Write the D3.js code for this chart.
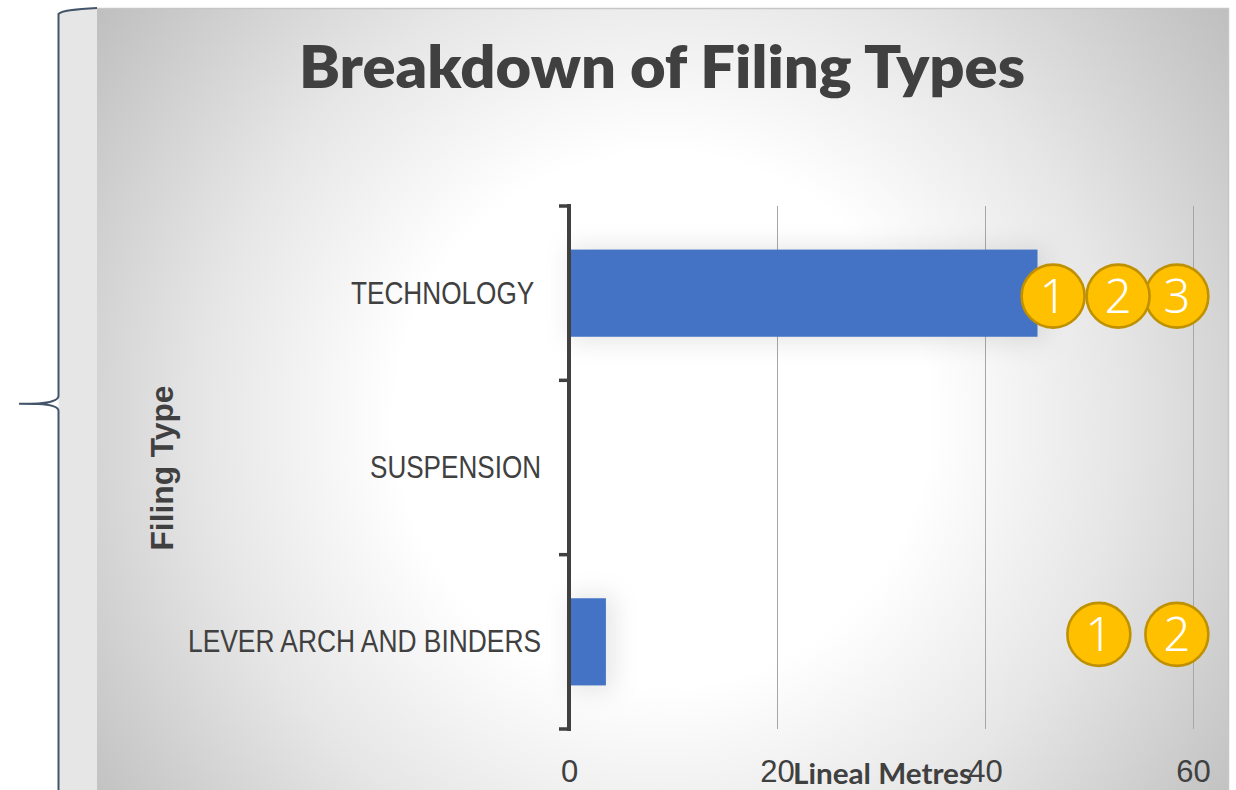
<!DOCTYPE html>
<html><head><meta charset="utf-8">
<script src="https://cdn.jsdelivr.net/npm/d3@7"></script>
<style>html,body{margin:0;padding:0;background:#fff;overflow:hidden}svg{display:block}</style>
</head><body><svg id="c" width="1236" height="790"></svg>
<script>
const categories = ["TECHNOLOGY ", "SUSPENSION", "LEVER ARCH AND BINDERS"];
const values = [45, 0, 3.5];
const xTicks = [0, 20, 40, 60];
const badgeGroups = [
  {category: "TECHNOLOGY ", labels: ["3", "2", "1"], at: [58.4, 52.75, 46.5], dy: 3},
  {category: "LEVER ARCH AND BINDERS", labels: ["2", "1"], at: [58.4, 50.9], dy: -7.5}
];
const chartTitle = "Breakdown of Filing Types";
const xTitle = "Lineal Metres";
const yTitle = "Filing Type";

const svg = d3.select("#c");
const defs = svg.append("defs");
const grad = defs.append("radialGradient").attr("id", "bg")
  .attr("gradientUnits", "userSpaceOnUse").attr("cx", 662).attr("cy", 420).attr("r", 740);
[[0, "#ffffff"], [0.36, "#ffffff"], [0.62, "#e6e6e6"], [1, "#b8b8b8"]].forEach(([o, c]) =>
  grad.append("stop").attr("offset", o).attr("stop-color", c));
const blur = defs.append("filter").attr("id", "sh").attr("x", "-30%").attr("y", "-40%").attr("width", "160%").attr("height", "180%");
blur.append("feGaussianBlur").attr("stdDeviation", 12);

svg.append("path").attr("d", "M97 8C78 9 62 10 58.5 14V790H97Z").attr("fill", "#e6e6e6");
svg.append("rect").attr("x", 97).attr("y", 8).attr("width", 1131).attr("height", 782).attr("fill", "url(#bg)");
svg.append("path").attr("d", "M97 8.5H1228.5V790").attr("fill", "none").attr("stroke", "#c6c6c6").attr("stroke-width", 1.5);
svg.append("path").attr("d", "M97 8C78 9 62 10 58.5 14V396C58.5 400 50 403 38 403.5C32 403.7 26 403.7 19 403.7C26 403.7 32 403.7 38 404C50 404.5 58.5 406 58.5 411V790")
  .attr("fill", "none").attr("stroke", "#44546a").attr("stroke-width", 2);

const x = d3.scaleLinear().domain([0, 60]).range([569.5, 1193.5]);
const y = d3.scaleBand().domain(categories).range([206, 729]).paddingInner(0.5).paddingOuter(0.25);
const yb = d3.scaleBand().domain(categories).range([206, 729]);

const fam = "'Liberation Sans', Arial, sans-serif";
svg.append("g").selectAll("line").data(xTicks.filter(d => d > 0)).join("line")
  .attr("x1", d => x(d)).attr("x2", d => x(d)).attr("y1", 206).attr("y2", 729)
  .attr("stroke", "#a6a6a6").attr("stroke-width", 1);

const bars = categories.map((c, i) => ({c, v: values[i]})).filter(d => d.v > 0);
svg.append("g").attr("filter", "url(#sh)").attr("opacity", 0.2).selectAll("rect").data(bars).join("rect")
  .attr("x", x(0)).attr("y", d => y(d.c) - 3).attr("width", d => x(d.v) - x(0) + 8).attr("height", y.bandwidth() + 8).attr("fill", "#808080");
svg.append("g").selectAll("rect").data(bars).join("rect")
  .attr("x", x(0)).attr("y", d => y(d.c)).attr("width", d => x(d.v) - x(0)).attr("height", y.bandwidth()).attr("fill", "#4472c4");

const ax = svg.append("g").attr("stroke", "#404040").attr("stroke-width", 4).attr("fill", "none");
ax.append("line").attr("x1", 569).attr("x2", 569).attr("y1", 204).attr("y2", 731);
const tickYs = categories.map(c => yb(c)).concat([729]);
ax.selectAll("line.t").data(tickYs).join("line").attr("class", "t").attr("stroke-width", 3.5)
  .attr("x1", 559).attr("x2", 570).attr("y1", d => d).attr("y2", d => d);

svg.append("g").selectAll("text").data(categories).join("text")
  .attr("x", 541).attr("y", d => yb(d) + yb.bandwidth() / 2 + 10.5)
  .attr("text-anchor", "end").style("white-space", "pre")
  .attr("font-family", fam).attr("font-size", 31).attr("fill", "#404040")
  .attr("textLength", d => ({"TECHNOLOGY ": 190, "SUSPENSION": 171, "LEVER ARCH AND BINDERS": 353})[d])
  .attr("lengthAdjust", "spacingAndGlyphs").text(d => d);

svg.append("g").selectAll("text").data(xTicks).join("text")
  .attr("x", d => x(d)).attr("y", 782).attr("text-anchor", "middle")
  .attr("font-family", fam).attr("font-size", 31).attr("fill", "#404040").text(d => d);

svg.append("text").attr("x", 662).attr("y", 88).attr("text-anchor", "middle")
  .attr("font-family", "Lato, sans-serif").attr("font-weight", 800).attr("font-size", 58).attr("fill", "#404040")
  .attr("textLength", 726).attr("lengthAdjust", "spacingAndGlyphs").text(chartTitle);
svg.append("text").attr("x", 882.5).attr("y", 784).attr("text-anchor", "middle")
  .attr("font-family", "Lato, sans-serif").attr("font-weight", 700).attr("font-size", 28).attr("fill", "#404040")
  .attr("textLength", 179).attr("lengthAdjust", "spacingAndGlyphs").text(xTitle);
svg.append("text").attr("transform", "translate(173,468) rotate(-90)").attr("text-anchor", "middle")
  .attr("font-family", fam).attr("font-weight", 700).attr("font-size", 31).attr("fill", "#404040")
  .attr("textLength", 165).attr("lengthAdjust", "spacingAndGlyphs").text(yTitle);

badgeGroups.forEach(g => {
  const cy = yb(g.category) + yb.bandwidth() / 2 + g.dy;
  const items = g.labels.map((l, i) => ({l, v: g.at[i]}));
  const s = svg.append("g").selectAll("g").data(items).join("g").attr("transform", d => `translate(${x(d.v)},${cy})`);
  s.append("circle").attr("r", 31.5).attr("fill", "#ffc000").attr("stroke", "#bf9000").attr("stroke-width", 2.6);
  s.append("text").attr("y", 17).attr("text-anchor", "middle").attr("font-family", "'Noto Sans', sans-serif")
    .attr("font-weight", 300).attr("font-size", 47).attr("fill", "#fff").text(d => d.l);
});
</script></body></html>
